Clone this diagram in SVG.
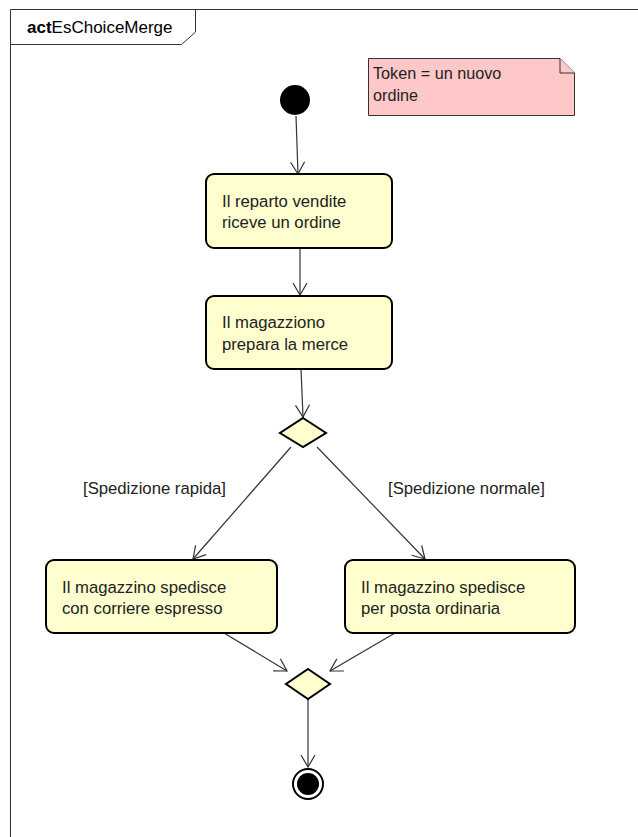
<svg xmlns="http://www.w3.org/2000/svg" width="638" height="837" viewBox="0 0 638 837">
  <style>
    .frame { fill: none; stroke: #333; stroke-width: 1; }
    .action { fill: #FEFECE; stroke: #000; stroke-width: 2; }
    .decision { fill: #FEFECE; stroke: #000; stroke-width: 2; }
    .note { fill: #FFC8C8; stroke: #333; stroke-width: 1; }
    .txt { font-family: "Liberation Sans", Arial, sans-serif; font-size: 16.7px; fill: #222; }
    .title { font-family: "Liberation Sans", Arial, sans-serif; font-size: 17px; fill: #000; }
    .flow { fill: none; stroke: #333; stroke-width: 1.2; marker-end: url(#open); }
  </style>
  <defs>
    <marker id="open" markerUnits="userSpaceOnUse" markerWidth="20" markerHeight="20" viewBox="-14 -10 16 20" refX="0" refY="0" orient="auto">
      <path d="M -12 -7 L 0 0 L -12 7" fill="none" stroke="#333" stroke-width="1.2"/>
    </marker>
  </defs>

  <rect width="638" height="837" fill="#fff"/>

  <!-- activity frame with name tab -->
  <g id="frame">
    <path class="frame" d="M 10.5 837 L 10.5 9.5 L 638 9.5"/>
    <path class="frame" d="M 10.5 44.5 L 181.5 44.5 L 195.5 32 L 195.5 9.5"/>
    <text class="title" x="27" y="33"><tspan font-weight="bold">act</tspan>EsChoiceMerge</text>
  </g>

  <!-- note -->
  <g id="note">
    <path class="note" d="M 368.5 58.5 L 560 58.5 L 574.5 73 L 574.5 115.5 L 368.5 115.5 Z"/>
    <path class="note" d="M 560 58.5 L 560 73 L 574.5 73" fill="none"/>
    <text class="txt" x="373" y="79" style="font-size:16.2px">Token = un nuovo</text>
    <text class="txt" x="373" y="101" style="font-size:16.2px">ordine</text>
  </g>

  <!-- connectors -->
  <g id="connectors">
    <path class="flow" d="M 296 116 L 298 174"/>
    <path class="flow" d="M 300 248 L 300 295"/>
    <path class="flow" d="M 301 369 L 303 417"/>
    <path class="flow" d="M 291 447 L 193 559"/>
    <path class="flow" d="M 317 447 L 425 559"/>
    <path class="flow" d="M 224 633 L 287 671"/>
    <path class="flow" d="M 395 633 L 330 671"/>
    <path class="flow" d="M 308 699 L 308 767"/>
    <text class="txt" x="83" y="494" fill="#333">[Spedizione rapida]</text>
    <text class="txt" x="388" y="494" fill="#333">[Spedizione normale]</text>
  </g>

  <!-- initial node -->
  <g id="start">
    <circle cx="295" cy="100" r="15" fill="#000"/>
  </g>

  <g id="ricevi">
    <rect class="action" x="206" y="174" width="186" height="74" rx="8" ry="8"/>
    <text class="txt" x="222" y="207">Il reparto vendite</text>
    <text class="txt" x="222" y="228">riceve un ordine</text>
  </g>

  <g id="prepara">
    <rect class="action" x="206" y="296" width="186" height="73" rx="8" ry="8"/>
    <text class="txt" x="222" y="328">Il magazziono</text>
    <text class="txt" x="222" y="350">prepara la merce</text>
  </g>

  <g id="decisione">
    <path class="decision" d="M 303 418 L 326 433 L 303 447 L 280 433 Z"/>
  </g>

  <g id="espresso">
    <rect class="action" x="46" y="560" width="231" height="73" rx="8" ry="8"/>
    <text class="txt" x="62" y="593">Il magazzino spedisce</text>
    <text class="txt" x="62" y="614">con corriere espresso</text>
  </g>

  <g id="ordinaria">
    <rect class="action" x="345" y="560" width="230" height="73" rx="8" ry="8"/>
    <text class="txt" x="361" y="593">Il magazzino spedisce</text>
    <text class="txt" x="361" y="614">per posta ordinaria</text>
  </g>

  <g id="merge">
    <path class="decision" d="M 308 669 L 330 684 L 308 699 L 286 684 Z"/>
  </g>

  <!-- final node -->
  <g id="end">
    <circle cx="308" cy="784" r="15" fill="#fff" stroke="#000" stroke-width="2"/>
    <circle cx="308" cy="784" r="11" fill="#000"/>
  </g>
</svg>
